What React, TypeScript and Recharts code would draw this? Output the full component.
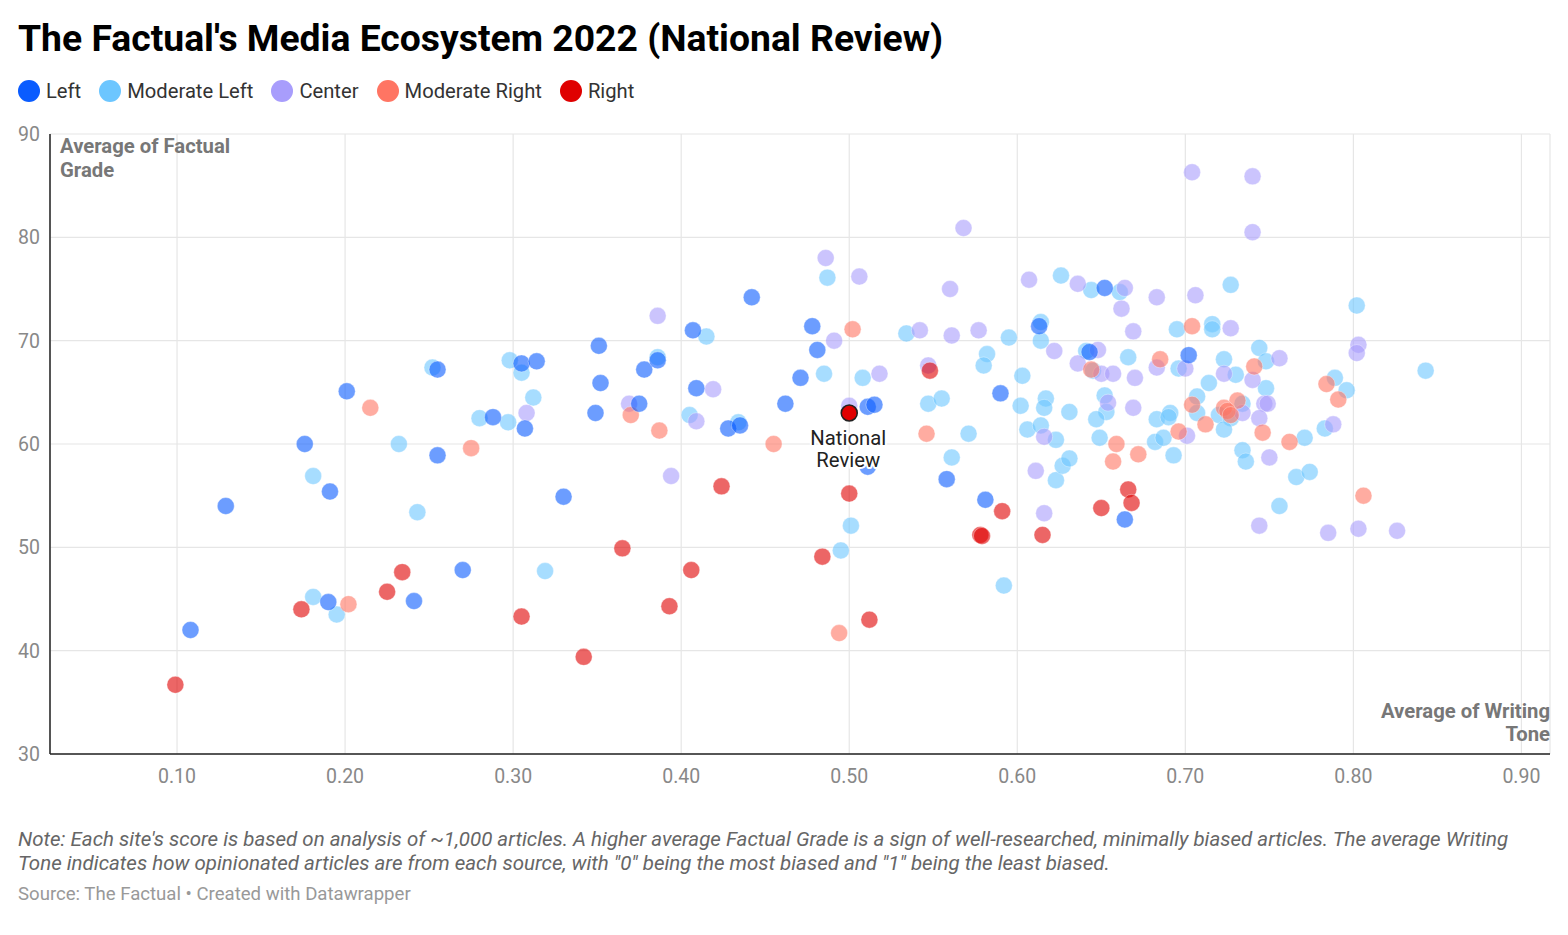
import { CartesianGrid, Scatter, ScatterChart, XAxis, YAxis } from "recharts"

// [writing tone, factual grade]
const left: [number, number][] = [
    [0.108, 42.0], [0.129, 54.0], [0.176, 60.0], [0.191, 55.4], [0.201, 65.1], [0.255, 67.2],
    [0.255, 58.9], [0.241, 44.8], [0.190, 44.7], [0.270, 47.8], [0.330, 54.9], [0.288, 62.6],
    [0.305, 67.8], [0.314, 68.0], [0.307, 61.5], [0.351, 69.5], [0.352, 65.9], [0.349, 63.0],
    [0.378, 67.2], [0.386, 68.1], [0.375, 63.9], [0.407, 71.0], [0.409, 65.4], [0.428, 61.5],
    [0.435, 61.8], [0.442, 74.2], [0.462, 63.9], [0.471, 66.4], [0.478, 71.4], [0.481, 69.1],
    [0.511, 63.6], [0.515, 63.8], [0.511, 57.8], [0.558, 56.6], [0.581, 54.6], [0.590, 64.9],
    [0.613, 71.4], [0.643, 68.9], [0.652, 75.1], [0.664, 52.7], [0.702, 68.6],
]

const moderateLeft: [number, number][] = [
    [0.181, 56.9], [0.232, 60.0], [0.252, 67.4], [0.243, 53.4], [0.181, 45.2], [0.195, 43.5],
    [0.319, 47.7], [0.280, 62.5], [0.297, 62.1], [0.298, 68.1], [0.305, 66.9], [0.312, 64.5],
    [0.386, 68.4], [0.405, 62.8], [0.415, 70.4], [0.434, 62.1], [0.487, 76.1], [0.485, 66.8],
    [0.508, 66.4], [0.501, 52.1], [0.495, 49.7], [0.534, 70.7], [0.547, 63.9], [0.555, 64.4],
    [0.571, 61.0], [0.561, 58.7], [0.582, 68.7], [0.580, 67.6], [0.595, 70.3], [0.603, 66.6],
    [0.602, 63.7], [0.614, 71.8], [0.614, 70.0], [0.617, 64.4], [0.616, 63.5], [0.606, 61.4],
    [0.614, 61.8], [0.623, 60.4], [0.631, 63.1], [0.626, 76.3], [0.644, 74.9], [0.661, 74.7],
    [0.641, 69.0], [0.645, 67.1], [0.652, 64.7], [0.653, 63.1], [0.647, 62.4], [0.649, 60.6],
    [0.666, 68.4], [0.695, 71.1], [0.696, 67.3], [0.683, 62.4], [0.691, 63.0], [0.690, 62.6],
    [0.682, 60.2], [0.687, 60.6], [0.707, 64.6], [0.623, 56.5], [0.627, 57.9], [0.631, 58.6],
    [0.693, 58.9], [0.592, 46.3], [0.727, 75.4], [0.802, 73.4], [0.716, 71.6], [0.716, 71.1],
    [0.744, 69.3], [0.748, 68.0], [0.723, 68.2], [0.730, 66.7], [0.714, 65.9], [0.748, 65.4],
    [0.843, 67.1], [0.789, 66.4], [0.796, 65.2], [0.734, 63.9], [0.707, 63.0], [0.720, 62.8],
    [0.727, 62.5], [0.723, 61.4], [0.783, 61.5], [0.771, 60.6], [0.734, 59.4], [0.736, 58.3],
    [0.766, 56.8], [0.774, 57.3], [0.756, 54.0],
]

const center: [number, number][] = [
    [0.486, 78.0], [0.386, 72.4], [0.308, 63.0], [0.369, 63.9], [0.419, 65.3], [0.409, 62.2],
    [0.394, 56.9], [0.704, 86.3], [0.568, 80.9], [0.506, 76.2], [0.560, 75.0], [0.607, 75.9],
    [0.636, 75.5], [0.664, 75.1], [0.662, 73.1], [0.683, 74.2], [0.706, 74.4], [0.542, 71.0],
    [0.561, 70.5], [0.577, 71.0], [0.669, 70.9], [0.491, 70.0], [0.622, 69.0], [0.648, 69.1],
    [0.636, 67.8], [0.650, 66.8], [0.657, 66.8], [0.670, 66.4], [0.683, 67.4], [0.700, 67.3],
    [0.518, 66.8], [0.547, 67.6], [0.500, 63.7], [0.654, 64.0], [0.669, 63.5], [0.616, 60.7],
    [0.701, 60.8], [0.611, 57.4], [0.616, 53.3], [0.740, 85.9], [0.740, 80.5], [0.727, 71.2],
    [0.756, 68.3], [0.723, 66.8], [0.740, 66.2], [0.803, 69.6], [0.802, 68.8], [0.747, 63.9],
    [0.749, 63.9], [0.734, 63.0], [0.744, 62.5], [0.788, 61.9], [0.750, 58.7], [0.744, 52.1],
    [0.785, 51.4], [0.803, 51.8], [0.826, 51.6],
]

const moderateRight: [number, number][] = [
    [0.215, 63.5], [0.202, 44.5], [0.275, 59.6], [0.370, 62.8], [0.387, 61.3], [0.455, 60.0],
    [0.502, 71.1], [0.546, 61.0], [0.494, 41.7], [0.644, 67.2], [0.685, 68.2], [0.704, 71.4],
    [0.704, 63.8], [0.659, 60.0], [0.657, 58.3], [0.672, 59.0], [0.696, 61.2], [0.741, 67.5],
    [0.784, 65.8], [0.791, 64.3], [0.731, 64.2], [0.723, 63.5], [0.725, 63.2], [0.727, 62.8],
    [0.712, 61.9], [0.746, 61.1], [0.762, 60.2], [0.806, 55.0],
]

const right: [number, number][] = [
    [0.099, 36.7], [0.174, 44.0], [0.225, 45.7], [0.234, 47.6], [0.305, 43.3], [0.342, 39.4],
    [0.365, 49.9], [0.393, 44.3], [0.406, 47.8], [0.424, 55.9], [0.484, 49.1], [0.500, 55.2],
    [0.512, 43.0], [0.548, 67.1], [0.578, 51.2], [0.579, 51.1], [0.591, 53.5], [0.615, 51.2],
    [0.650, 53.8], [0.666, 55.6], [0.668, 54.3],
]

const highlight = { name: "National Review", x: 0.5, y: 63.0 }

const categories = ["Left", "Moderate Left", "Center", "Moderate Right", "Right"]
const seriesPoints = [left, moderateLeft, center, moderateRight, right]

const xTicks = [0.1, 0.2, 0.3, 0.4, 0.5, 0.6, 0.7, 0.8, 0.9]
const yTicks = [30, 40, 50, 60, 70, 80, 90]

const colors = ["#0a5cff", "#6cc6ff", "#a89dfc", "#ff7563", "#df0000"]
// draw order, lighter groups first
const drawOrder = [1, 2, 3, 0, 4]

const font = "Roboto, 'Noto Sans', sans-serif"

const toRows = (pts: [number, number][]) => pts.map(([x, y]) => ({ x, y }))

function dotShape(color: string) {
    return (props: any) => (
        <circle
            cx={props.cx}
            cy={props.cy}
            r={8.5}
            fill={color}
            fillOpacity={0.6}
            stroke="#fff"
            strokeOpacity={0.5}
            strokeWidth={0.7}
        />
    )
}

function HighlightShape(props: any) {
    const { cx, cy } = props
    const words = highlight.name.split(" ")
    return (
        <g>
            <circle cx={cx} cy={cy} r={8} fill="#e00000" stroke="#222" strokeWidth={1.6} />
            {words.map((w, i) => (
                <text
                    key={w}
                    x={cx - 1}
                    y={cy + 25 + i * 22}
                    textAnchor="middle"
                    dominantBaseline="central"
                    fontFamily={font}
                    fontSize={20.3}
                    fill="#222"
                    stroke="#fff"
                    strokeWidth={4}
                    strokeLinejoin="round"
                    paintOrder="stroke"
                >
                    {w}
                </text>
            ))}
        </g>
    )
}

const abs = (top: number, left: number): React.CSSProperties => ({ position: "absolute", top, left })

export default function App() {
    return (
        <div style={{ position: "relative", width: 1568, height: 935, fontFamily: font, background: "#fff" }}>
            <style>{"body{margin:0}"}</style>
            <div style={{ position: "absolute", top: 0, left: 0 }}>
                <ScatterChart width={1568} height={935} margin={{ top: 134, right: 18, bottom: 151, left: 10 }}>
                    <CartesianGrid stroke="#e6e6e6" strokeWidth={1.2} />
                    <XAxis
                        type="number"
                        dataKey="x"
                        domain={[0.0244, 0.917]}
                        ticks={xTicks}
                        tickFormatter={(v: number) => v.toFixed(2)}
                        allowDataOverflow
                        height={30}
                        tickLine={false}
                        tickMargin={9}
                        axisLine={{ stroke: "#222", strokeWidth: 1.5 }}
                        tick={{ fill: "#888", fontSize: 19.5, fontFamily: font }}
                    />
                    <YAxis
                        type="number"
                        dataKey="y"
                        domain={[30, 90]}
                        ticks={yTicks}
                        allowDataOverflow
                        width={40}
                        tickLine={false}
                        tickMargin={4}
                        axisLine={{ stroke: "#222", strokeWidth: 1.5 }}
                        tick={{ fill: "#888", fontSize: 19.5, fontFamily: font }}
                    />
                    {drawOrder.map((i) => (
                        <Scatter
                            key={categories[i]}
                            name={categories[i]}
                            data={toRows(seriesPoints[i])}
                            fill={colors[i]}
                            shape={dotShape(colors[i])}
                            isAnimationActive={false}
                        />
                    ))}
                    <Scatter
                        name={highlight.name}
                        data={[{ x: highlight.x, y: highlight.y }]}
                        shape={HighlightShape}
                        isAnimationActive={false}
                    />
                </ScatterChart>
            </div>

            <div style={{ ...abs(15, 18), fontSize: 37.3, fontWeight: 700, color: "#000", lineHeight: "46px", whiteSpace: "nowrap" }}>
                The Factual's Media Ecosystem 2022 (National Review)
            </div>

            <div style={{ ...abs(78, 18), display: "flex", alignItems: "center", gap: 18, fontSize: 20.2, color: "#333", lineHeight: "26px" }}>
                {categories.map((c, i) => (
                    <div key={c} style={{ display: "flex", alignItems: "center", gap: 6 }}>
                        <span style={{ width: 22, height: 22, borderRadius: 11, background: colors[i], display: "inline-block" }} />
                        <span>{c}</span>
                    </div>
                ))}
            </div>

            <div style={{ ...abs(134, 60), fontSize: 20.3, fontWeight: 700, color: "#777", lineHeight: "24px" }}>
                Average of Factual
                <br />
                Grade
            </div>
            <div style={{ position: "absolute", top: 700, right: 18, textAlign: "right", fontSize: 20.3, fontWeight: 700, color: "#777", lineHeight: "23px" }}>
                Average of Writing
                <br />
                Tone
            </div>

            <div style={{ ...abs(827, 18), fontSize: 20.5, fontStyle: "italic", color: "#666", lineHeight: "24px", whiteSpace: "nowrap" }}>
                Note: Each site's score is based on analysis of ~1,000 articles. A higher average Factual Grade is a sign of well-researched, minimally biased articles. The average Writing
                <br />
                Tone indicates how opinionated articles are from each source, with "0" being the most biased and "1" being the least biased.
            </div>
            <div style={{ ...abs(882, 18), fontSize: 18.6, color: "#999", lineHeight: "24px" }}>
                Source: The Factual • Created with Datawrapper
            </div>
        </div>
    )
}
